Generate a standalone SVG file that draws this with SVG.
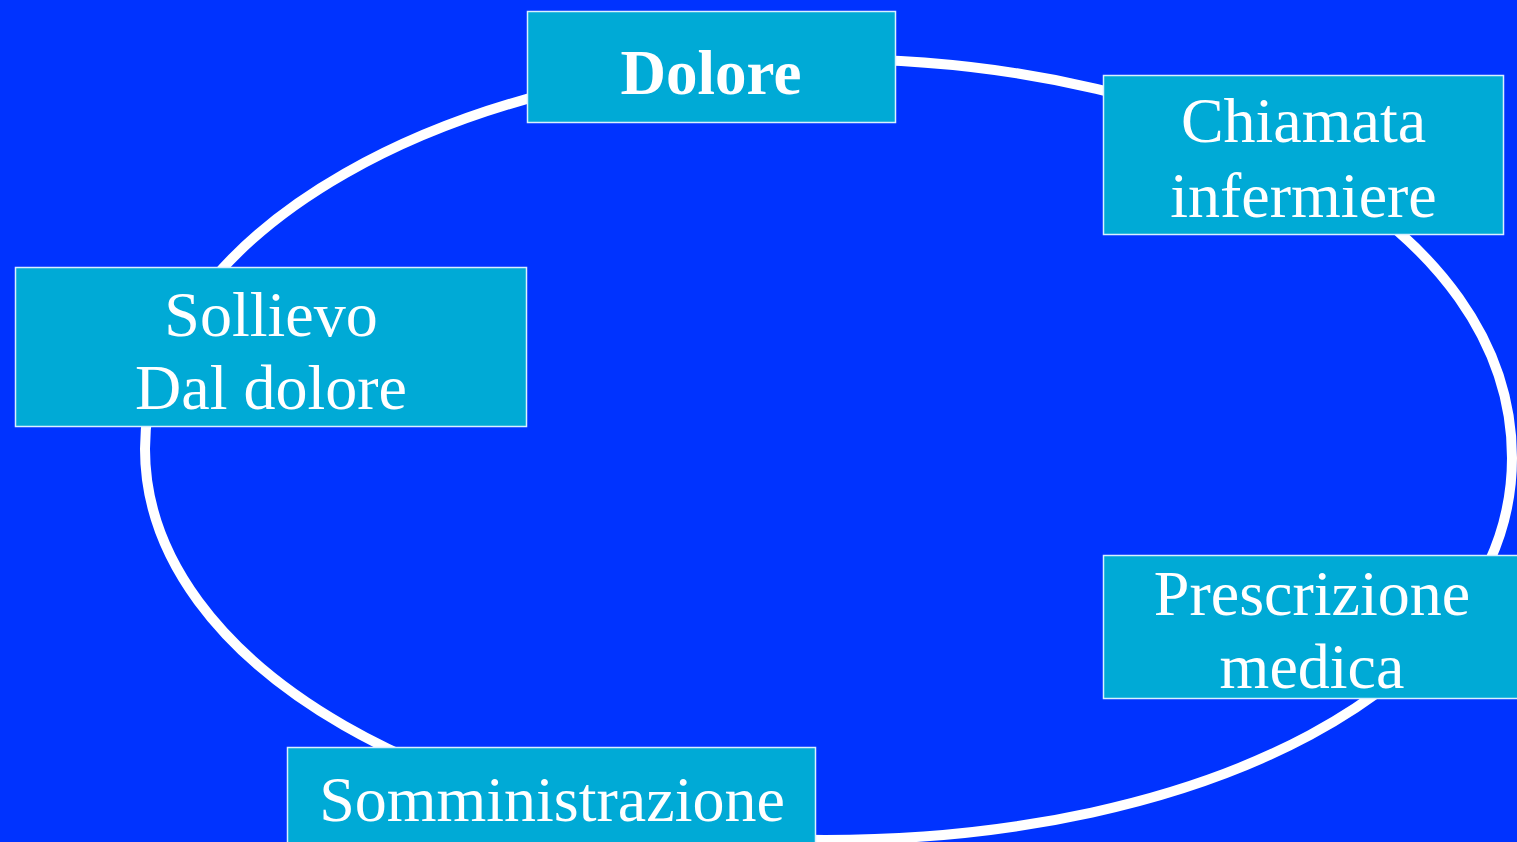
<svg xmlns="http://www.w3.org/2000/svg" width="1517" height="842" viewBox="0 0 1517 842">
  <style>
    .box { fill: #00AAD6; stroke: #D8F0FF; stroke-width: 1.5; }
    .lbl { font-family: "Liberation Serif", "Times New Roman", serif; font-size: 64px; fill: #FFFFFF; text-anchor: middle; }
    .bold { font-weight: bold; font-size: 63px; }
    .loop { fill: none; stroke: #FFFFFF; stroke-width: 10; }
  </style>
  <rect width="1517" height="842" fill="#0033FF"/>
  <g id="connectors">
    <!-- closed cycle loop drawn as four cubic quadrants -->
    <path class="loop" d="M145,449 C145,234 451,59 828,59 C1211,59 1512,227 1512,458 C1512,687 1203,840 825,840 C449,840 145,665 145,449 Z"/>
  </g>
  <g id="dolore">
    <rect class="box" x="527.5" y="11.5" width="368" height="111"/>
    <text class="lbl bold" x="711" y="94">Dolore</text>
  </g>
  <g id="chiamata">
    <rect class="box" x="1103.5" y="75.5" width="400" height="159"/>
    <text class="lbl" x="1303.5" y="142">Chiamata</text>
    <text class="lbl" x="1303.5" y="217">infermiere</text>
  </g>
  <g id="sollievo">
    <rect class="box" x="15.5" y="267.5" width="511" height="159"/>
    <text class="lbl" x="271" y="336">Sollievo</text>
    <text class="lbl" x="271" y="409">Dal dolore</text>
  </g>
  <g id="prescrizione">
    <rect class="box" x="1103.5" y="555.5" width="420" height="143"/>
    <text class="lbl" x="1312" y="615">Prescrizione</text>
    <text class="lbl" x="1312" y="688">medica</text>
  </g>
  <g id="somministrazione">
    <rect class="box" x="287.5" y="747.5" width="528" height="110"/>
    <text class="lbl" x="552" y="821">Somministrazione</text>
  </g>
</svg>
